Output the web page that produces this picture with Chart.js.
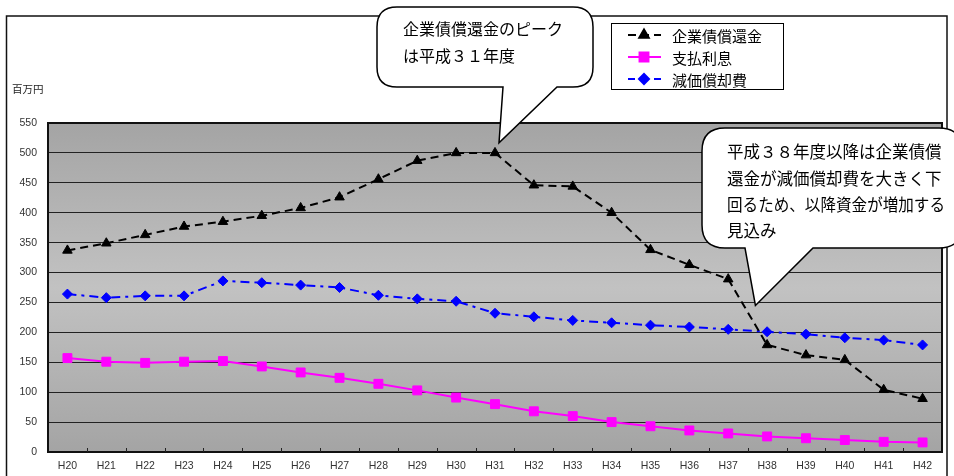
<!DOCTYPE html>
<html>
<head>
<meta charset="utf-8">
<script src="https://cdn.jsdelivr.net/npm/chart.js@4.4.1/dist/chart.umd.min.js"></script>
<style>
  html, body { margin: 0; padding: 0; background: #fff; }
  #wrap { width: 954px; height: 476px; position: relative; }
</style>
</head>
<body>
<div id="wrap"><canvas id="c" width="954" height="476"></canvas></div>
<script>
// Fiscal years (Heisei)
const years = ['H20','H21','H22','H23','H24','H25','H26','H27','H28','H29','H30','H31',
               'H32','H33','H34','H35','H36','H37','H38','H39','H40','H41','H42'];

// 企業債償還金 (million yen)
const bondRedemption = [337,349,363,377,385,395,408,426,456,487,500,500,
                        446,444,400,338,313,289,179,162,154,104,89];
// 支払利息 (million yen)
const interestPaid = [157,151,149,151,152,143,133,124,114,103,91,80,
                      68,60,50,43,36,31,26,23,20,17,16];
// 減価償却費 (million yen)
const depreciation = [264,258,261,261,286,283,279,275,262,256,252,232,
                      226,220,216,212,209,205,201,197,191,187,179];

const seriesLabels = ['企業債償還金', '支払利息', '減価償却費'];
const yUnit = '百万円';
const yMin = 0, yMax = 550, yStep = 50;

const note1 = ['企業債償還金のピーク', 'は平成３１年度'];
const note2 = ['平成３８年度以降は企業債償', '還金が減価償却費を大きく下', '回るため、以降資金が増加する', '見込み'];

const CJK = '"Noto Sans CJK JP", "Noto Sans", sans-serif';
Chart.defaults.font.family = '"Liberation Sans", Arial, sans-serif';

function roundedCallout(ctx, l, t, r, b, rad, baseL, baseR, tipX, tipY) {
  ctx.beginPath();
  ctx.moveTo(l + rad, t);
  ctx.lineTo(r - rad, t);
  ctx.quadraticCurveTo(r, t, r, t + rad);
  ctx.lineTo(r, b - rad);
  ctx.quadraticCurveTo(r, b, r - rad, b);
  ctx.lineTo(baseR, b);
  ctx.lineTo(tipX, tipY);
  ctx.lineTo(baseL, b);
  ctx.lineTo(l + rad, b);
  ctx.quadraticCurveTo(l, b, l, b - rad);
  ctx.lineTo(l, t + rad);
  ctx.quadraticCurveTo(l, t, l + rad, t);
  ctx.closePath();
  ctx.fillStyle = '#fff';
  ctx.fill();
  ctx.lineWidth = 1.5;
  ctx.strokeStyle = '#000';
  ctx.stroke();
}

const decor = {
  id: 'decor',
  beforeDraw(chart) {
    const ctx = chart.ctx, a = chart.chartArea;
    ctx.save();
    ctx.fillStyle = '#fff';
    ctx.fillRect(0, 0, chart.width, chart.height);
    // outer frame
    ctx.strokeStyle = '#111';
    ctx.lineWidth = 1.5;
    ctx.strokeRect(6.5, 16, 940.5, 480);
    // plot background
    const g = ctx.createLinearGradient(0, a.top, 0, a.bottom);
    g.addColorStop(0, '#a4a4a4');
    g.addColorStop(0.5, '#c2c2c2');
    g.addColorStop(1, '#a4a4a4');
    ctx.fillStyle = g;
    ctx.fillRect(a.left, a.top, a.right - a.left, a.bottom - a.top);
    // unit label
    ctx.fillStyle = '#222';
    ctx.font = '10.5px ' + CJK;
    ctx.textBaseline = 'middle';
    ctx.textAlign = 'left';
    ctx.fillText(yUnit, 12, 89);
    ctx.restore();
  },
  beforeDatasetsDraw(chart) {
    const ctx = chart.ctx, a = chart.chartArea, xs = chart.scales.x;
    ctx.save();
    // plot frame
    ctx.strokeStyle = '#111';
    ctx.lineWidth = 2;
    ctx.strokeRect(a.left, a.top, a.right - a.left, a.bottom - a.top);
    // small inward tick marks at category boundaries
    ctx.lineWidth = 1;
    ctx.strokeStyle = '#222';
    for (let i = 1; i < years.length; i++) {
      const x = Math.round((xs.getPixelForValue(i - 1) + xs.getPixelForValue(i)) / 2) + 0.5;
      ctx.beginPath();
      ctx.moveTo(x, a.bottom);
      ctx.lineTo(x, a.bottom - 4);
      ctx.stroke();
    }
    ctx.restore();
  },
  afterDraw(chart) {
    const ctx = chart.ctx, xs = chart.scales.x, ys = chart.scales.y;
    ctx.save();
    // legend box
    ctx.fillStyle = '#fff';
    ctx.fillRect(611, 23, 172, 66);
    ctx.strokeStyle = '#000';
    ctx.lineWidth = 1;
    ctx.strokeRect(611.5, 23.5, 172, 66);
    chart.data.datasets.forEach((ds, i) => {
      const y = 35 + i * 22;
      ctx.save();
      ctx.strokeStyle = ds.borderColor;
      ctx.lineWidth = 2;
      ctx.setLineDash(ds.legendDash || []);
      ctx.beginPath();
      ctx.moveTo(628, y);
      ctx.lineTo(661, y);
      ctx.stroke();
      ctx.setLineDash([]);
      ctx.fillStyle = ds.pointBackgroundColor;
      ctx.strokeStyle = ds.pointBorderColor;
      Chart.helpers.drawPoint(ctx, { pointStyle: ds.pointStyle, radius: ds.pointRadius, borderWidth: 1, rotation: 0 }, 644, y);
      ctx.restore();
      ctx.fillStyle = '#000';
      ctx.font = '15px ' + CJK;
      ctx.textBaseline = 'middle';
      ctx.textAlign = 'left';
      ctx.fillText(ds.label, 672, y + 1);
    });

    // callout: peak year
    const t1x = xs.getPixelForValue(11) + 4, t1y = ys.getPixelForValue(500) - 10;
    roundedCallout(ctx, 377, 7, 593, 87, 20, 503, 557, t1x, t1y);
    ctx.fillStyle = '#000';
    ctx.font = '16px ' + CJK;
    ctx.textBaseline = 'middle';
    ctx.textAlign = 'left';
    ctx.fillText(note1[0], 403, 29, 168);
    ctx.fillText(note1[1], 403, 56, 168);

    // callout: outlook after H38
    const t2x = xs.getPixelForValue(17.7), t2y = ys.getPixelForValue(245);
    roundedCallout(ctx, 702, 128, 962, 248, 23, 745, 813, t2x, t2y);
    ctx.fillStyle = '#000';
    ctx.font = '16.5px ' + CJK;
    note2.forEach((s, i) => ctx.fillText(s, 727, 152 + i * 26.3, 218));
    ctx.restore();
  }
};

new Chart(document.getElementById('c'), {
  type: 'line',
  data: {
    labels: years,
    datasets: [
      {
        label: seriesLabels[0],
        data: bondRedemption,
        borderColor: '#000',
        borderWidth: 2,
        borderDash: [8, 5],
        legendDash: [8, 5],
        pointStyle: 'triangle',
        pointRadius: 5.5,
        pointBackgroundColor: '#000',
        pointBorderColor: '#000',
        pointBorderWidth: 1,
        tension: 0
      },
      {
        label: seriesLabels[1],
        data: interestPaid,
        borderColor: '#ff00ff',
        borderWidth: 2,
        pointStyle: 'rect',
        pointRadius: 6.3,
        pointBackgroundColor: '#ff00ff',
        pointBorderColor: '#ff00ff',
        pointBorderWidth: 1,
        tension: 0
      },
      {
        label: seriesLabels[2],
        data: depreciation,
        borderColor: '#0000ff',
        borderWidth: 2,
        borderDash: [9, 5, 3, 5],
        legendDash: [7, 6],
        pointStyle: 'rectRot',
        pointRadius: 5,
        pointBackgroundColor: '#0000ff',
        pointBorderColor: '#0000ff',
        pointBorderWidth: 1,
        tension: 0
      }
    ]
  },
  options: {
    responsive: false,
    animation: false,
    devicePixelRatio: 1,
    layout: { padding: { top: 123, right: 12, bottom: 0, left: 0 } },
    plugins: { legend: { display: false }, tooltip: { enabled: false } },
    scales: {
      x: {
        type: 'category',
        offset: true,
        grid: { display: false, drawTicks: false },
        border: { display: false },
        ticks: { color: '#333', font: { size: 10.5 }, padding: 8, autoSkip: false, maxRotation: 0 },
        afterFit(s) { s.height = 24; }
      },
      y: {
        min: yMin,
        max: yMax,
        grid: { color: '#222', lineWidth: 1, drawTicks: false },
        border: { display: false },
        ticks: { stepSize: yStep, color: '#333', font: { size: 10.5 }, padding: 11 },
        afterFit(s) { s.width = 48; }
      }
    }
  },
  plugins: [decor]
});
</script>
</body>
</html>
